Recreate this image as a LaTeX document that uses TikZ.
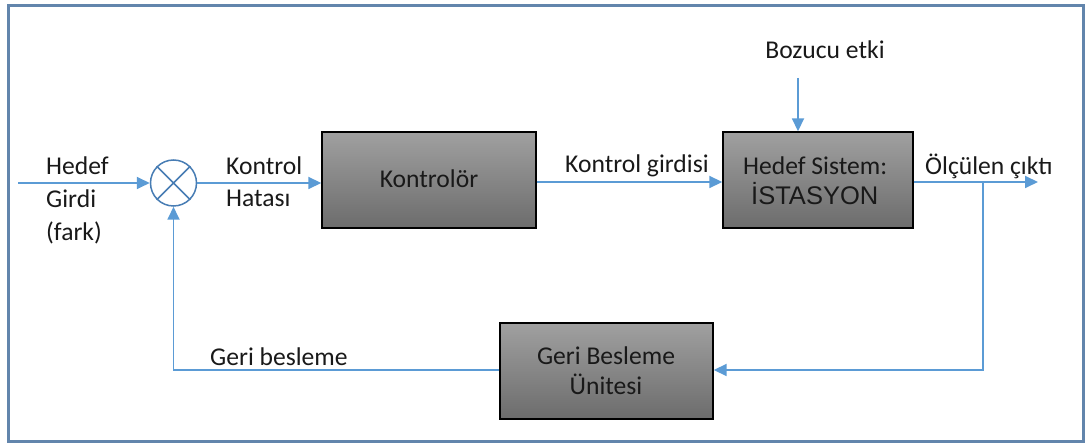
\documentclass[tikz,border=0pt]{standalone}
\usepackage{fontspec}
\setmainfont{Carlito}
\newfontfamily\arialfont{Liberation Sans}
\usetikzlibrary{arrows.meta}
\definecolor{arrowblue}{RGB}{91,155,213}
\definecolor{frameblue}{RGB}{98,133,172}
\definecolor{sumblue}{RGB}{72,125,180}
\definecolor{txt}{RGB}{25,25,25}
\definecolor{boxtop}{RGB}{160,160,160}
\definecolor{boxbot}{RGB}{108,108,108}
\tikzset{
  blockbox/.style={draw=black, line width=1.4bp, top color=boxtop, bottom color=boxbot, inner sep=0pt, text=txt},
  conn/.style={draw=arrowblue, line width=1.8bp},
  arr/.style={conn, -{Triangle[length=13bp,width=12bp]}},
  lbl/.style={inner sep=0pt, text=txt, font=\fontsize{25.6bp}{30bp}\selectfont},
}
\begin{document}
\begin{tikzpicture}[x=1bp,y=-1bp]
\useasboundingbox (0,0) rectangle (1086,444);
\draw[frameblue, line width=2.6bp] (8.5,5.5) rectangle (1083.5,441.5);

% blocks
\node[blockbox, minimum width=214bp, minimum height=96bp] (ctrl) at (429,180) {};
\node[blockbox, minimum width=190bp, minimum height=96bp] (plant) at (818,180) {};
\node[blockbox, minimum width=213bp, minimum height=96bp] (fb) at (606.5,371) {};
\node[draw=sumblue, line width=1.5bp, circle, minimum size=46bp, inner sep=0pt, fill=white] (sum) at (173.5,183) {};
\draw[sumblue, line width=1.5bp] (sum.north west) -- (sum.south east) (sum.north east) -- (sum.south west);

% block texts
\node[lbl, anchor=base] (ctrlT) at (429,188) {Kontrolör};
\node[lbl, anchor=base west] (plantT1) at (743,175) {Hedef Sistem:};
\node[lbl, anchor=base west, font=\arialfont\fontsize{25.5bp}{30bp}\selectfont] (plantT2) at (751,205) {İSTASYON};
\node[lbl, anchor=base] (fbT1) at (606,365) {Geri Besleme};
\node[lbl, anchor=base] (fbT2) at (606,395) {Ünitesi};

% labels
\node[lbl, anchor=base west] (in1) at (46,175) {Hedef};
\node[lbl, anchor=base west] (in2) at (46,208) {Girdi};
\node[lbl, anchor=base west] (in3) at (46,241) {(fark)};
\node[lbl, anchor=base west] (err1) at (226,175) {Kontrol};
\node[lbl, anchor=base west] (err2) at (226,207) {Hatası};
\node[lbl, anchor=base west] (u) at (565,173) {Kontrol girdisi};
\node[lbl, anchor=base] (dist) at (825,59) {Bozucu etki};
\node[lbl, anchor=base west] (y) at (925,175) {Ölçülen çıktı};
\node[lbl, anchor=base west] (fbl) at (210,366) {Geri besleme};

% coordinates
\coordinate (inS) at (18,183);
\coordinate (distS) at (798,78);
\coordinate (outE) at (1038,182);
\coordinate (tap) at (983,182);
\coordinate (tapD) at (983,370);
\coordinate (fbC) at (173.5,370);

% connectors
\draw[arr] (inS) -- (sum.west);
\draw[arr] (sum.east) -- (ctrl.west |- sum.east);
\draw[arr] (ctrl.east |- 0,182) -- (plant.west |- 0,182);
\draw[arr] (distS) -- (distS |- plant.north);
\draw[arr] (plant.east |- outE) -- (outE);
\draw[arr] (tap) -- (tapD) -- (fb.east |- tapD);
\draw[arr] (fb.west |- fbC) -- (fbC) -- (sum.south);
\end{tikzpicture}
\end{document}
